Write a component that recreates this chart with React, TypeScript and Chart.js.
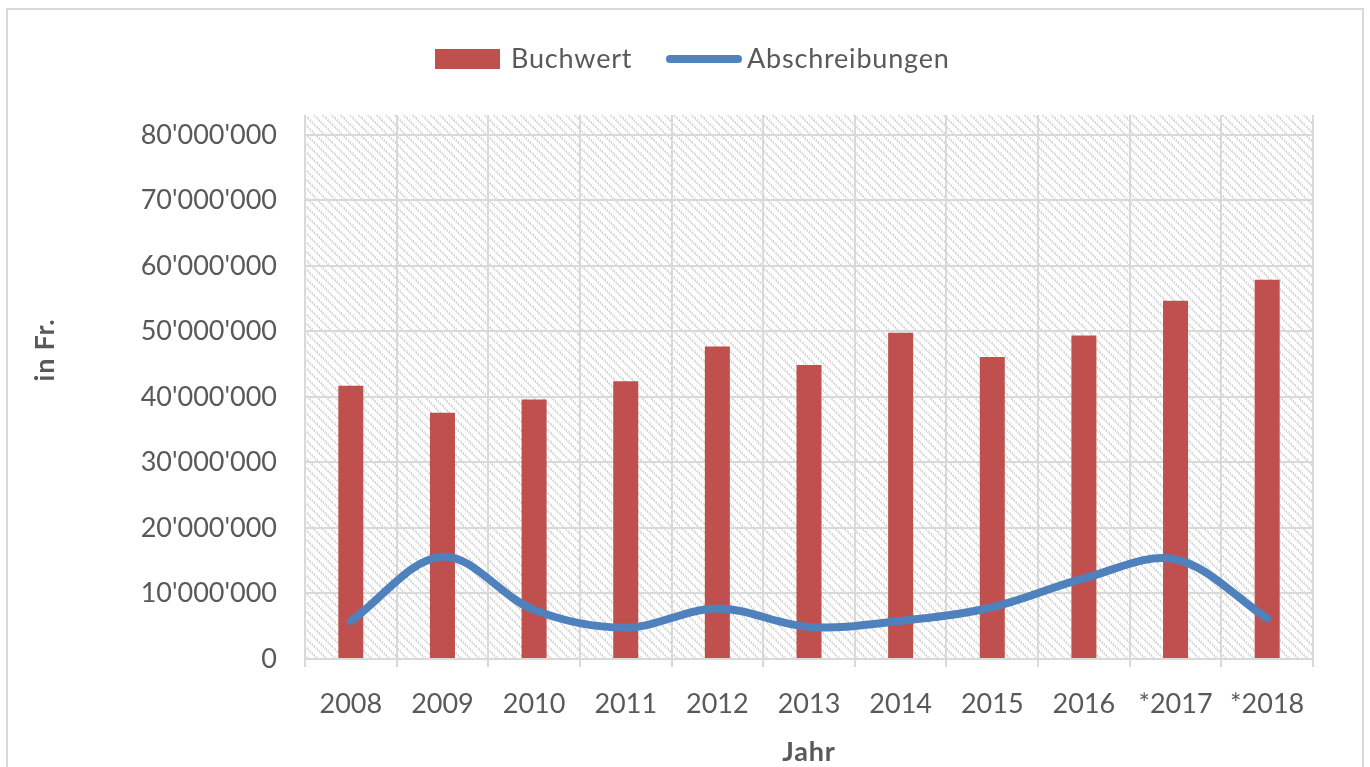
import React, { useEffect, useRef } from 'react';
import { Chart, registerables } from 'chart.js';

Chart.register(...registerables);

const years = ['2008', '2009', '2010', '2011', '2012', '2013', '2014', '2015', '2016', '*2017', '*2018'];
const buchwert = [41.7e6, 37.6e6, 39.6e6, 42.4e6, 47.7e6, 44.9e6, 49.8e6, 46.1e6, 49.4e6, 54.7e6, 57.9e6];
const abschreibungen = [5.8e6, 15.6e6, 7.5e6, 4.8e6, 7.7e6, 4.9e6, 5.8e6, 7.9e6, 12.3e6, 15.2e6, 6.2e6];
const yTickValues = [0, 10e6, 20e6, 30e6, 40e6, 50e6, 60e6, 70e6, 80e6];
const seriesNames = ['Buchwert', 'Abschreibungen'];
const axisTitles = { x: 'Jahr', y: 'in Fr.' };

const RED = '#c0504d';
const BLUE = '#4f81bd';
const TEXT = '#595959';
const GRID = '#d9d9d9';
const FONT = 'Lato, "Open Sans", sans-serif';

const fmt = (v: number) => String(Math.round(v)).replace(/\B(?=(\d{3})+(?!\d))/g, "'");

function makePattern(ctx: CanvasRenderingContext2D) {
  const n = 9;
  const c = document.createElement('canvas');
  c.width = n;
  c.height = n;
  const p = c.getContext('2d')!;
  p.fillStyle = '#ffffff';
  p.fillRect(0, 0, n, n);
  p.fillStyle = GRID;
  for (let r = 0; r < n; r++) {
    p.fillRect(r % n, r, 1, 1);
    if (r % 2 === 0) p.fillRect((r + 2) % n, r, 1, 1);
    else p.fillRect((r + 1) % n, r, 1, 1);
  }
  return ctx.createPattern(c, 'repeat');
}

const decorPlugin = {
  id: 'decor',
  beforeDraw(chart: any) {
    const { ctx, chartArea } = chart;
    ctx.save();
    ctx.fillStyle = '#ffffff';
    ctx.fillRect(0, 0, chart.width, chart.height);
    const pat = makePattern(ctx);
    if (pat) {
      ctx.fillStyle = pat;
      ctx.fillRect(chartArea.left, chartArea.top, chartArea.right - chartArea.left, chartArea.bottom - chartArea.top);
    }
    ctx.restore();
  },
  afterDraw(chart: any) {
    const { ctx, chartArea } = chart;
    ctx.save();
    // outer frame
    ctx.strokeStyle = GRID;
    ctx.lineWidth = 2;
    ctx.strokeRect(7, 9, 1356, 780);

    // legend
    ctx.font = `27px ${FONT}`;
    (ctx as any).letterSpacing = '0.8px';
    ctx.fillStyle = RED;
    ctx.fillRect(435, 49, 65, 20);
    ctx.fillStyle = TEXT;
    ctx.textBaseline = 'middle';
    ctx.textAlign = 'left';
    ctx.fillText(seriesNames[0], 511, 59);
    ctx.strokeStyle = BLUE;
    ctx.lineWidth = 8;
    ctx.lineCap = 'round';
    ctx.beginPath();
    ctx.moveTo(670, 59);
    ctx.lineTo(738, 59);
    ctx.stroke();
    ctx.fillText(seriesNames[1], 747, 59);

    // axis titles
    ctx.font = `bold 27px ${FONT}`;
    ctx.textAlign = 'center';
    ctx.fillText(axisTitles.x, (chartArea.left + chartArea.right) / 2, 752);
    ctx.translate(45, 350);
    ctx.rotate(-Math.PI / 2);
    ctx.fillText(axisTitles.y, 0, 0);
    ctx.restore();
  },
};

export default function App() {
  const ref = useRef<HTMLCanvasElement>(null);
  useEffect(() => {
    document.body.style.margin = '0';
    const chart = new Chart(ref.current!, {
      type: 'bar',
      data: {
        labels: years,
        datasets: [
          {
            type: 'line',
            label: seriesNames[1],
            data: abschreibungen,
            borderColor: BLUE,
            backgroundColor: BLUE,
            borderWidth: 8,
            borderCapStyle: 'round',
            borderJoinStyle: 'round',
            pointRadius: 0,
            tension: 0.35,
            order: 0,
          } as any,
          {
            type: 'bar',
            label: seriesNames[0],
            data: buchwert,
            backgroundColor: RED,
            barPercentage: 0.273,
            categoryPercentage: 1,
            order: 1,
          },
        ],
      },
      options: {
        responsive: false,
        animation: false,
        layout: { padding: { top: 115, right: 57, left: 0, bottom: 0 } },
        plugins: { legend: { display: false }, tooltip: { enabled: false } },
        scales: {
          x: {
            offset: true,
            grid: { display: true, offset: true, color: GRID, lineWidth: 2, drawTicks: true, tickLength: 8, tickColor: GRID },
            border: { display: true, color: GRID, width: 2 },
            ticks: { color: TEXT, font: { family: FONT, size: 27 }, padding: 21, maxRotation: 0, autoSkip: false },
            afterFit: (s: any) => {
              s.height = 108;
            },
          },
          y: {
            min: 0,
            max: 83.05e6,
            grid: { color: GRID, lineWidth: 2, drawTicks: false },
            border: { display: false },
            ticks: {
              color: TEXT,
              font: { family: FONT, size: 27 },
              padding: 28,
              callback: (v: any) => fmt(Number(v)),
            },
            afterBuildTicks: (s: any) => {
              s.ticks = yTickValues.map((v) => ({ value: v }));
            },
            afterFit: (s: any) => {
              s.width = 305;
            },
          },
        },
      },
      plugins: [decorPlugin],
    });
    return () => chart.destroy();
  }, []);
  return (
    <div style={{ position: 'absolute', left: 0, top: 0, width: 1370, height: 767 }}>
      <canvas ref={ref} width={1370} height={767} />
    </div>
  );
}
